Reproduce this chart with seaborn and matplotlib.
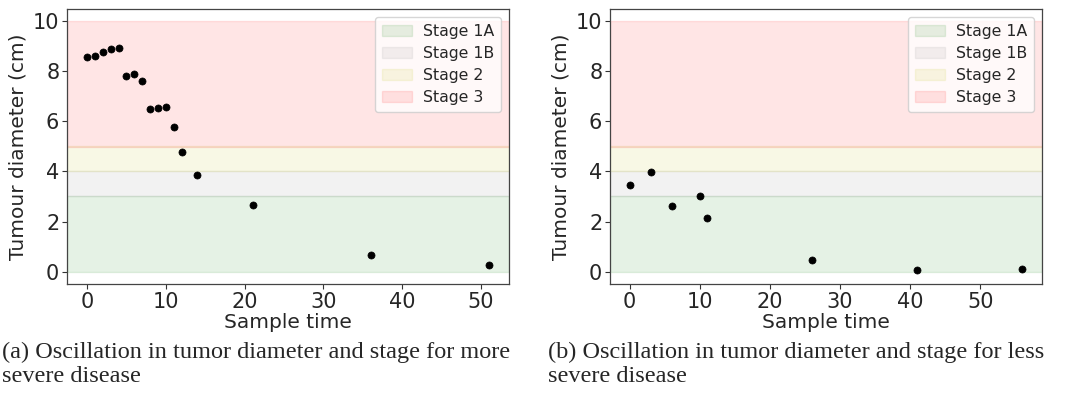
import matplotlib
matplotlib.use("Agg")
import matplotlib.pyplot as plt
import seaborn as sns
import pandas as pd

# sample times and tumour diameters
time_a = [0, 1, 2, 3, 4, 5, 6, 7, 8, 9, 10, 11, 12, 14, 21, 36, 51]
diam_a = [8.57, 8.61, 8.77, 8.88, 8.93, 7.83, 7.91, 7.63, 6.50, 6.54, 6.58,
          5.76, 4.76, 3.86, 2.66, 0.67, 0.27]

time_b = [0, 3, 6, 10, 11, 26, 41, 56]
diam_b = [3.46, 3.98, 2.61, 3.01, 2.13, 0.47, 0.07, 0.11]

# stage bands (lower, upper, colour, label)
stage_labels = ["Stage 1A", "Stage 1B", "Stage 2", "Stage 3"]
stage_low = [0, 3, 4, 5]
stage_high = [3, 4, 5, 10]
stage_colors = ["g", "grey", "y", "r"]

captions = [
    "(a) Oscillation in tumor diameter and stage for more\nsevere disease",
    "(b) Oscillation in tumor diameter and stage for less\nsevere disease",
]

sns.set_style("ticks")
plt.rcParams["font.family"] = ["DejaVu Sans"]

fig = plt.figure(figsize=(10.73, 4.05), dpi=100)
ax_a = fig.add_axes([67 / 1073, 121 / 405, 442 / 1073, 275 / 405])
ax_b = fig.add_axes([610 / 1073, 121 / 405, 432 / 1073, 275 / 405])


def draw(ax, t, d):
    for lo, hi, c, lab in zip(stage_low, stage_high, stage_colors, stage_labels):
        ax.axhspan(lo, hi, color=c, alpha=0.1, label=lab)
    df = pd.DataFrame({"time": t, "diameter": d})
    sns.scatterplot(data=df, x="time", y="diameter", ax=ax, color="black",
                    s=26, edgecolor="black", linewidth=0.5, legend=False)
    ax.set_xlabel("Sample time", fontsize=14.5, labelpad=1)
    ax.set_ylabel("Tumour diameter (cm)", fontsize=14.5, labelpad=4)
    ax.tick_params(labelsize=15, color="#333333", pad=2)
    ax.set_yticks([0, 2, 4, 6, 8, 10])
    ax.set_xticks([0, 10, 20, 30, 40, 50])
    for sp in ax.spines.values():
        sp.set_visible(True)
        sp.set_color("#444444")
        sp.set_linewidth(0.9)
    ax.legend(loc="upper right", fontsize=11.3, framealpha=0.8,
              handlelength=1.9, handletextpad=0.7, borderpad=0.45,
              labelspacing=0.45)


draw(ax_a, time_a, diam_a)
draw(ax_b, time_b, diam_b)

fig.text(2 / 1073, 1 - 342 / 405, captions[0], family="Liberation Serif",
         fontsize=17.5, va="top", ha="left", linespacing=1.2)
fig.text(548 / 1073, 1 - 342 / 405, captions[1], family="Liberation Serif",
         fontsize=17.5, va="top", ha="left", linespacing=1.2)

fig.savefig("out.png", dpi=100)
